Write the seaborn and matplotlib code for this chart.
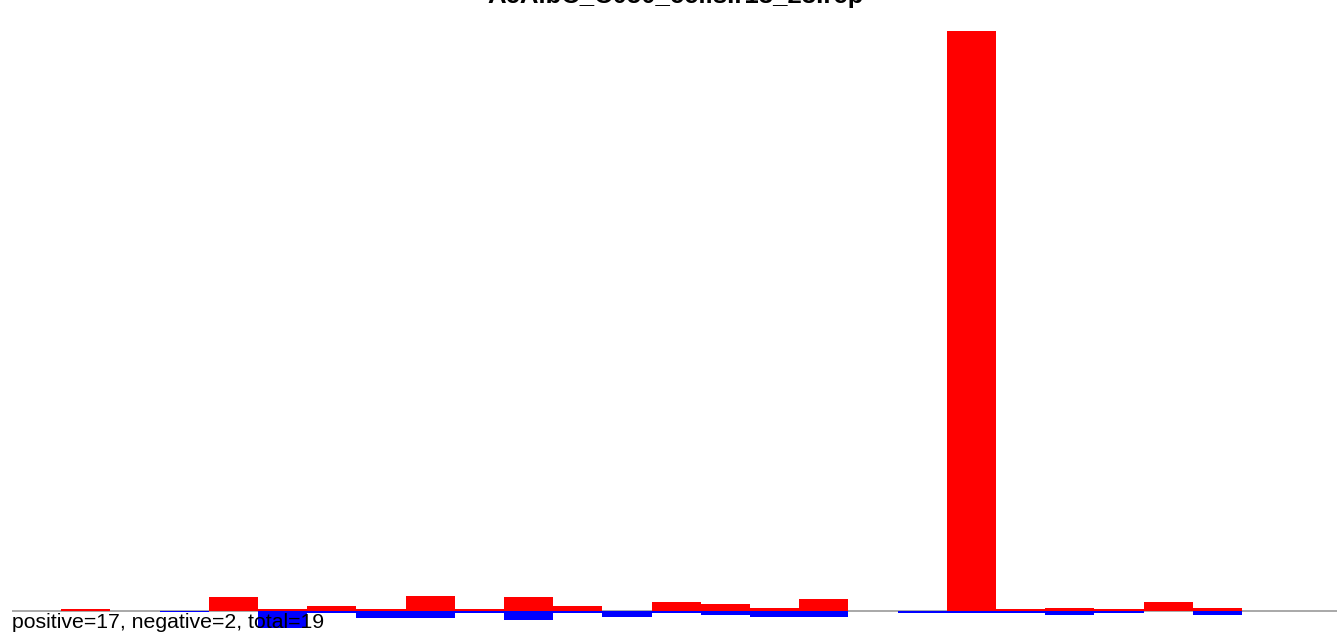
import matplotlib
matplotlib.use("Agg")
import matplotlib.pyplot as plt
import seaborn as sns

# bins along the x axis, and the positive / negative counts per bin
bins = list(range(27))
positive = [0, 1.7, 0, 0, 14, 2, 4.5, 2, 15, 2, 14, 5, 0, 9, 7, 3, 12, 0,
            0, 580, 2, 3, 2, 9, 3, 0, 0]
negative = [0, 0, 0, 1.5, 0, 17, 2, 7, 7, 2, 9, 2, 6, 2, 4, 6, 6, 0,
            2, 2, 2, 4, 2, 0, 4, 0, 0]

title = "AcAlbC_C050_cells.r13_23.rep"
summary = "positive=17, negative=2, total=19"

sns.set_style("white")
plt.rcParams['font.family'] = ['Liberation Sans', 'DejaVu Sans']

fig = plt.figure(figsize=(13.37, 6.34), dpi=100)
ax = fig.add_axes([12 / 1337, 0, 1325 / 1337, 1])

# negative side (blue, below the line)
sns.barplot(x=bins, y=[-v for v in negative], color="#0000ff", width=1,
            saturation=1, linewidth=0, errorbar=None, ax=ax, zorder=2)
# positive side (red, above the line)
sns.barplot(x=bins, y=positive, color="#ff0000", width=1,
            saturation=1, linewidth=0, errorbar=None, ax=ax, zorder=3)

ax.axhline(0, color="#999999", lw=1.2, zorder=1)
ax.set_xlim(-0.5, 26.43)
ax.set_ylim(-23.5, 610.5)
ax.axis("off")

# title sits mostly above the top edge, as in the original
fig.text(675.5 / 1337, 1 - 3 / 634, title, ha="center", va="baseline",
         fontsize=18.5, fontweight="bold", color="black")
fig.text(12 / 1337, 6 / 634, summary, ha="left", va="baseline",
         fontsize=15.3, color="black", zorder=10)

fig.savefig("out.png", dpi=100)
